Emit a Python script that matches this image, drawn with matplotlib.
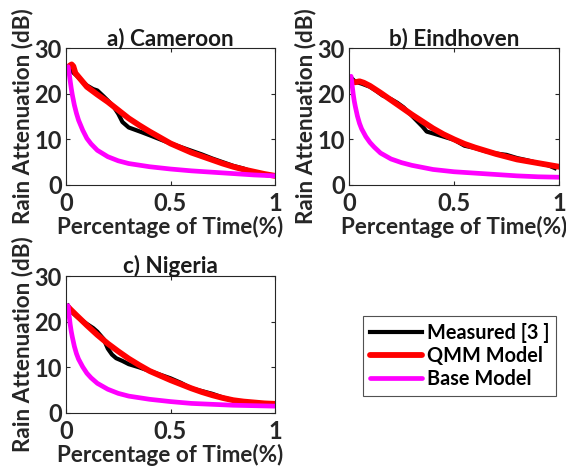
import matplotlib
matplotlib.use("Agg")
import matplotlib.pyplot as plt

plt.rcParams['font.family'] = ['Lato', 'DejaVu Sans']
plt.rcParams['font.weight'] = 'bold'

# ---------------- data ----------------
titles = ["a) Cameroon", "b) Eindhoven", "c) Nigeria"]
xticks = [0, 0.5, 1]
xticklabels = ["0", "0.5", "1"]
yticks = [0, 10, 20, 30]
legend_labels = ["Measured [3 ]", "QMM Model", "Base Model"]

# a) Cameroon
a_meas_x = [0.01, 0.03, 0.05, 0.08, 0.10, 0.13, 0.15, 0.18, 0.20, 0.23, 0.25, 0.27, 0.30, 0.33, 0.36,
            0.40, 0.45, 0.50, 0.55, 0.60, 0.65, 0.70, 0.75, 0.80, 0.85, 0.88]
a_meas_y = [25.5, 24.8, 24.0, 22.6, 21.8, 21.0, 20.7, 19.4, 18.5, 17.0, 15.6, 13.8, 12.6, 12.1, 11.6,
            10.9, 10.0, 9.1, 8.3, 7.5, 6.7, 5.8, 5.0, 4.2, 3.6, 3.1]
a_qmm_x = [0.0, 0.01, 0.02, 0.027, 0.035, 0.045, 0.067, 0.10, 0.15, 0.20, 0.25, 0.30, 0.35, 0.40, 0.45,
           0.50, 0.55, 0.60, 0.65, 0.70, 0.75, 0.80, 0.85, 0.90, 0.95, 1.0]
a_qmm_y = [25.5, 25.8, 26.2, 26.4, 26.0, 24.5, 23.3, 21.5, 19.8, 18.2, 16.4, 14.6, 13.1, 11.7, 10.4,
           9.1, 8.1, 7.1, 6.3, 5.5, 4.7, 4.0, 3.4, 2.9, 2.4, 2.0]
a_base_x = [0.01, 0.015, 0.02, 0.025, 0.03, 0.04, 0.05, 0.06, 0.08, 0.10, 0.12, 0.15, 0.20, 0.25,
            0.30, 0.40, 0.50, 0.60, 0.70, 0.80, 0.90, 1.0]
a_base_y = [25.9, 24.5, 22.8, 21.2, 19.8, 17.5, 15.7, 14.2, 12.0, 10.2, 9.0, 7.6, 6.2, 5.3,
            4.7, 4.0, 3.5, 3.1, 2.8, 2.5, 2.2, 2.0]

# b) Eindhoven
b_meas_x = [0.01, 0.03, 0.06, 0.10, 0.13, 0.16, 0.20, 0.23, 0.26, 0.29, 0.32, 0.35, 0.37, 0.40,
            0.45, 0.50, 0.55, 0.60, 0.65, 0.70, 0.75, 0.80, 0.85, 0.90, 0.95, 0.98]
b_meas_y = [23.5, 22.6, 22.2, 21.5, 20.6, 19.6, 18.8, 18.0, 17.0, 15.6, 14.2, 12.8, 11.7, 11.3,
            10.6, 9.9, 8.6, 8.1, 7.4, 6.9, 6.6, 5.9, 5.4, 4.8, 4.3, 3.7]
b_qmm_x = [0.01, 0.03, 0.05, 0.07, 0.10, 0.15, 0.20, 0.25, 0.30, 0.35, 0.40, 0.45, 0.50, 0.55,
           0.60, 0.65, 0.70, 0.75, 0.80, 0.85, 0.90, 0.95, 1.0]
b_qmm_y = [22.6, 22.5, 22.7, 22.4, 21.7, 20.2, 18.6, 17.0, 15.4, 13.9, 12.4, 11.1, 10.0, 9.0,
           8.2, 7.5, 6.8, 6.2, 5.6, 5.2, 4.8, 4.4, 4.0]
b_base_x = [0.01, 0.015, 0.02, 0.025, 0.03, 0.04, 0.05, 0.06, 0.08, 0.10, 0.12, 0.15, 0.20, 0.25,
            0.30, 0.40, 0.50, 0.60, 0.70, 0.80, 0.90, 1.0]
b_base_y = [23.8, 21.8, 19.9, 18.4, 17.2, 15.1, 13.5, 12.3, 10.6, 9.3, 8.3, 7.0, 5.7, 4.9,
            4.3, 3.4, 2.9, 2.6, 2.3, 2.0, 1.8, 1.7]

# c) Nigeria
c_meas_x = [0.01, 0.03, 0.06, 0.10, 0.13, 0.15, 0.18, 0.20, 0.22, 0.24, 0.27, 0.30, 0.35, 0.40,
            0.45, 0.50, 0.55, 0.60, 0.65, 0.70, 0.75, 0.80, 0.85, 0.90]
c_meas_y = [23.5, 22.0, 20.8, 19.5, 18.6, 17.8, 16.2, 14.1, 12.8, 12.0, 11.4, 10.7, 10.0, 9.2,
            8.4, 7.6, 6.6, 5.4, 4.8, 4.2, 3.4, 2.8, 2.3, 2.1]
c_qmm_x = [0.01, 0.05, 0.10, 0.15, 0.20, 0.25, 0.30, 0.35, 0.40, 0.45, 0.50, 0.55, 0.60, 0.65,
           0.70, 0.75, 0.80, 0.85, 0.90, 0.95, 1.0]
c_qmm_y = [23.2, 21.4, 19.2, 17.1, 15.2, 13.5, 11.9, 10.5, 9.2, 8.2, 7.2, 6.3, 5.4, 4.6,
           3.9, 3.3, 2.8, 2.5, 2.3, 2.1, 2.0]
c_base_x = [0.01, 0.015, 0.02, 0.025, 0.03, 0.04, 0.05, 0.06, 0.08, 0.10, 0.12, 0.15, 0.20, 0.25,
            0.30, 0.40, 0.50, 0.60, 0.70, 0.80, 0.90, 1.0]
c_base_y = [23.5, 21.3, 19.4, 17.9, 16.7, 14.6, 13.0, 11.8, 10.1, 8.7, 7.7, 6.5, 5.2, 4.3,
            3.7, 3.0, 2.5, 2.1, 1.9, 1.7, 1.6, 1.5]

panels = [
    (a_meas_x, a_meas_y, a_qmm_x, a_qmm_y, a_base_x, a_base_y),
    (b_meas_x, b_meas_y, b_qmm_x, b_qmm_y, b_base_x, b_base_y),
    (c_meas_x, c_meas_y, c_qmm_x, c_qmm_y, c_base_x, c_base_y),
]

# ---------------- figure ----------------
W, H = 566, 474
fig = plt.figure(figsize=(W / 100, H / 100), dpi=100)

def px_axes(x0, y0, x1, y1):
    return fig.add_axes([x0 / W, 1 - y1 / H, (x1 - x0) / W, (y1 - y0) / H])

boxes = [(66, 48, 275, 185), (349, 48, 559, 185), (66, 276, 275, 413)]
axcol = '#262626'
fs = 16.2
handles = None
for (box, title, data) in zip(boxes, titles, panels):
    ax = px_axes(*box)
    mx, my, qx, qy, bx, by = data
    l1, = ax.plot(mx, my, color='black', lw=3.0, solid_joinstyle='round')
    l2, = ax.plot(qx, qy, color='#ff0000', lw=4.2, solid_capstyle='round')
    l3, = ax.plot(bx, by, color='#ff00ff', lw=3.4, solid_capstyle='round')
    handles = [l1, l2, l3]
    ax.set_xlim(0, 1)
    ax.set_ylim(0, 30)
    ax.set_xticks(xticks)
    ax.set_xticklabels(xticklabels)
    ax.set_yticks(yticks)
    ax.tick_params(direction='in', top=True, right=True, length=3, width=0.8,
                   color=axcol, labelsize=17, labelcolor='#262626')
    ax.tick_params(axis='x', pad=5)
    ax.tick_params(axis='y', pad=3)
    for lab in ax.get_xticklabels() + ax.get_yticklabels():
        lab.set_fontweight('bold')
    for s in ax.spines.values():
        s.set_color(axcol)
        s.set_linewidth(0.8)
    ax.set_title(title, fontsize=fs, fontweight='bold', pad=2, color='#1a1a1a')
    ax.set_xlabel("Percentage of Time(%)", fontsize=fs, fontweight='bold', labelpad=1, color='#262626')
    ax.set_ylabel("Rain Attenuation (dB)", fontsize=fs, fontweight='bold', labelpad=1, color='#262626')

leg = fig.legend(handles, legend_labels, loc='upper left',
                 bbox_to_anchor=(363 / W, 1 - 316 / H), prop={'size': 14.3, 'weight': 'bold'},
                 frameon=True, fancybox=False, edgecolor='#262626', handlelength=2.6,
                 handletextpad=0.25, borderpad=0.35, labelspacing=0.15, borderaxespad=0)
leg.get_frame().set_linewidth(0.8)

fig.savefig("out.png", dpi=100)
